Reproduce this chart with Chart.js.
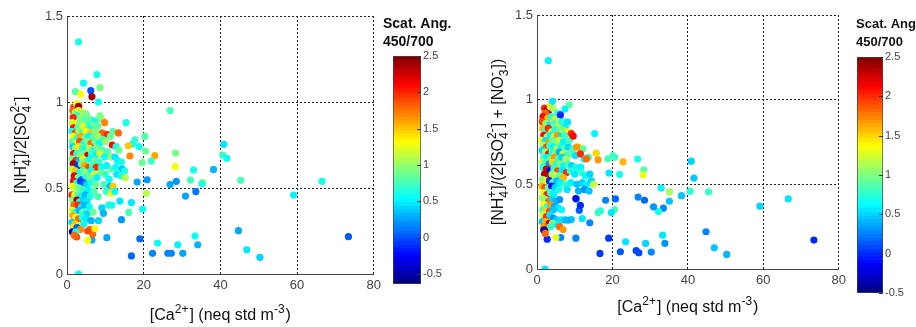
<!DOCTYPE html>
<html>
<head>
<meta charset="utf-8">
<script src="https://cdn.jsdelivr.net/npm/chart.js@4.4.0/dist/chart.umd.min.js"></script>
<style>
  html, body { margin: 0; padding: 0; background: #fff; }
  body { width: 916px; height: 327px; position: relative; overflow: hidden; }
  canvas { position: absolute; top: 0; }
</style>
</head>
<body>
<canvas id="scatA" width="385" height="327" style="left:0px"></canvas>
<canvas id="barA" width="75" height="327" style="left:383px"></canvas>
<canvas id="scatB" width="380" height="327" style="left:470px"></canvas>
<canvas id="barB" width="69" height="327" style="left:847px"></canvas>
<script>
// Axis ticks
const xTicks = [0, 20, 40, 60, 80];
const yTicks = [0, 0.5, 1, 1.5];
const cbTicks = [-0.5, 0, 0.5, 1, 1.5, 2, 2.5];

// Titles (strings, or [superscript, subscript] stacks)
const leftYTitle = ['[NH', ['+', '4'], ']/2[SO', ['2-', '4'], ']'];
const rightYTitle = ['[NH', ['+', '4'], ']/(2[SO', ['2-', '4'], '] + [NO', ['-', '3'], '])'];
const xTitle = ['[Ca', ['2+', ''], '] (neq std m', ['-3', ''], ')'];
const cbTitleLines = ['Scat. Ang.', '450/700'];

// Points: [Ca2+, ratio, scattering angstrom exponent]
// left panel, dense group near the y axis
const leftCluster = [
  [1.8,0.97,2.0],[2.5,0.99,1.3],[3.2,0.98,1.1],[3.0,0.975,2.4],[1.5,0.95,1.8],[2.2,0.94,1.0],[3.0,0.95,1.2],[4.0,0.94,1.1],
  [5.0,0.93,0.9],[2.6,0.92,0.6],[1.6,0.91,2.0],[3.6,0.91,1.0],[4.6,0.90,0.8],[6.0,0.90,0.85],[7.2,0.89,0.6],[8.6,0.92,0.9],
  [9.0,0.90,0.95],[9.8,0.88,1.7],[1.4,0.88,1.2],[2.4,0.87,1.4],[3.4,0.88,0.9],[5.5,0.87,0.7],[6.8,0.86,1.0],[1.7,0.85,2.1],
  [2.8,0.85,0.8],[4.2,0.86,1.2],[5.9,0.85,0.6],[8.0,0.86,0.8],
  [1.3,0.83,0.55],[2.2,0.82,1.9],[3.1,0.83,1.0],[4.0,0.82,0.7],[5.0,0.83,1.3],[6.2,0.82,1.5],[7.4,0.83,0.9],[9.2,0.82,1.8],
  [10.5,0.81,2.0],[11.3,0.80,0.85],[12.0,0.83,0.8],[1.6,0.80,1.3],[2.7,0.79,0.6],[3.6,0.80,1.6],[4.7,0.79,0.9],[5.6,0.80,0.5],
  [6.6,0.79,0.75],[8.0,0.80,1.0],[9.5,0.78,0.7],[1.4,0.77,0.8],[2.4,0.76,1.2],[3.3,0.77,1.9],[4.4,0.76,0.6],[5.3,0.77,0.9],
  [6.3,0.76,1.8],[7.3,0.77,0.85],[8.5,0.76,0.55],[10.0,0.77,1.0],[11.8,0.75,2.1],[12.8,0.74,0.6],[13.5,0.72,0.85],
  [1.5,0.74,0.4],[2.2,0.73,1.0],[3.0,0.74,1.4],[4.0,0.73,0.7],[4.9,0.72,0.5],[5.8,0.73,1.1],[6.9,0.72,0.6],[8.0,0.73,0.9],
  [9.2,0.72,0.8],[10.6,0.71,0.75],[1.7,0.70,2.1],[2.6,0.70,0.65],[3.5,0.69,1.0],[4.5,0.70,0.85],[5.4,0.69,2.2],[6.4,0.70,0.7],
  [7.5,0.69,0.5],[8.6,0.70,1.2],[9.8,0.68,0.55],[11.5,0.68,1.0],[12.5,0.68,0.45],[1.3,0.67,0.9],[2.3,0.66,2.0],[3.2,0.66,0.3],
  [4.1,0.67,1.2],[5.2,0.66,0.8],[6.1,0.67,0.55],[7.2,0.66,0.9],[8.3,0.65,0.7],[13.2,0.66,0.5],[14.2,0.65,0.6],
  [1.6,0.64,2.4],[2.8,0.63,-0.1],[3.8,0.64,0.9],[4.6,0.63,1.6],[5.6,0.62,1.9],[6.7,0.63,0.7],[7.6,0.62,2.0],[9.0,0.62,0.6],
  [10.3,0.63,0.5],[11.6,0.61,0.8],[12.7,0.62,0.55],[14.4,0.61,0.35],[15.0,0.60,0.6],[1.3,0.61,1.1],[2.2,0.60,1.5],[3.2,0.59,0.6],
  [4.2,0.60,0.8],[5.2,0.59,1.0],[6.3,0.60,0.55],[7.0,0.58,1.2],[8.7,0.59,0.9],[10.0,0.58,0.7],[13.0,0.58,0.45],[14.1,0.57,0.6],
  [15.2,0.56,1.1],[1.9,0.57,2.2],[2.9,0.56,0.85],[3.9,0.55,0.15],[4.9,0.56,0.65],[6.0,0.56,0.9],[7.8,0.56,0.5],[11.0,0.55,0.55],
  [1.7,0.54,2.1],[2.5,0.53,0.6],[3.5,0.54,-0.1],[4.3,0.53,0.0],[5.1,0.52,0.4],[6.3,0.53,0.6],[7.5,0.52,0.85],[9.6,0.52,0.75],
  [11.2,0.51,0.3],[12.0,0.51,1.5],[1.4,0.51,1.3],[2.3,0.50,1.1],[3.1,0.50,0.9],[4.0,0.49,0.7],[5.5,0.49,0.5],[7.0,0.48,0.8],
  [10.3,0.48,0.7],[11.6,0.47,1.3],[12.5,0.48,0.55],[1.3,0.46,2.0],[2.0,0.46,1.3],[2.8,0.46,0.8],[3.7,0.45,0.55],[4.8,0.46,0.3],
  [6.0,0.45,0.6],[8.1,0.45,0.75],
  [1.5,0.43,0.9],[2.6,0.43,2.4],[3.3,0.42,0.7],[4.2,0.43,0.4],[5.2,0.42,0.45],[1.8,0.40,1.8],[2.9,0.40,2.0],[3.8,0.39,0.5],
  [4.6,0.40,0.3],[5.8,0.39,0.55],[1.4,0.37,1.2],[2.3,0.36,0.6],[3.2,0.37,0.3],[4.1,0.36,0.75],[5.2,0.35,0.4],[6.8,0.36,0.85],
  [1.5,0.34,1.6],[2.3,0.33,1.3],[3.0,0.32,1.8],[4.0,0.33,0.6],[5.0,0.32,0.45],[6.3,0.31,0.3],[1.3,0.30,0.4],[2.1,0.29,1.5],
  [3.1,0.28,1.2],[4.4,0.29,0.55],[1.6,0.27,1.4],[2.6,0.27,0.0],[3.5,0.26,1.7],[1.4,0.245,-0.3],[2.3,0.245,0.6],[6.0,0.26,1.8],
  [5.4,0.25,1.9],[2.5,0.215,1.9],[1.9,0.225,1.8]
];
// left panel, spread-out points
const leftSparse = [
  [3.0,1.35,0.6],[7.8,1.16,0.6],[4.3,1.11,0.55],[2.2,1.06,0.8],[3.6,1.045,1.3],[6.2,1.066,0.0],[6.5,1.03,2.4],[8.6,1.083,0.9],
  [8.2,1.0,0.55],[26.9,0.95,0.75],[15.4,0.88,0.6],[13.4,0.82,1.8],[17.7,0.78,0.7],[20.3,0.80,0.8],[18.8,0.74,0.6],[20.5,0.715,0.85],
  [17.1,0.756,0.6],[16.0,0.745,1.5],[16.4,0.686,1.7],[22.9,0.688,1.6],[22.0,0.657,0.7],[19.6,0.647,0.85],[28.3,0.703,0.9],
  [28.2,0.624,1.3],[33.0,0.605,0.6],[38.2,0.608,0.3],[40.9,0.754,0.45],[40.6,0.692,0.7],[41.7,0.673,0.55],[45.3,0.545,0.75],
  [35.4,0.531,1.1],[35.2,0.525,0.6],[32.2,0.546,0.75],[28.5,0.539,0.2],[26.9,0.52,0.25],[20.9,0.548,0.2],[18.3,0.535,0.25],
  [20.7,0.469,1.1],[30.9,0.453,0.25],[33.6,0.479,0.1],[59.1,0.459,0.5],[66.5,0.539,0.6],[73.4,0.217,0.0],[44.7,0.252,0.25],
  [46.9,0.141,0.45],[50.3,0.097,0.4],[33.4,0.221,0.55],[34.1,0.17,0.3],[30.2,0.12,0.25],[28.9,0.17,0.5],[26.3,0.12,0.15],
  [27.2,0.12,0.15],[22.3,0.12,0.15],[23.6,0.18,0.55],[19.0,0.205,0.05],[16.8,0.105,0.05],[10.4,0.211,0.25],[19.7,0.378,0.55],
  [16.8,0.415,0.45],[16.1,0.358,0.75],[14.2,0.316,0.2],[13.8,0.424,0.45],[11.7,0.40,0.55],[10.9,0.40,0.6],[9.1,0.385,0.4],
  [9.5,0.353,0.3],[8.2,0.31,0.4],[6.5,0.198,0.25],[5.4,0.196,1.3],[6.7,0.232,1.8],[7.3,0.264,1.3],[3.0,0.0,0.55]
];
// right panel, dense group near the y axis
const rightCluster = [
  [2.0,0.95,2.0],[2.6,0.94,2.4],[3.0,0.92,2.3],[2.2,0.92,1.8],[3.5,0.96,1.3],[4.2,0.95,1.1],[1.6,0.90,2.1],[2.8,0.89,1.6],
  [3.8,0.90,0.7],[4.8,0.89,1.2],[5.5,0.92,0.8],[1.4,0.87,1.9],[2.4,0.86,1.0],[3.4,0.85,0.55],[4.5,0.86,0.9],[5.8,0.85,1.1],
  [6.6,0.87,0.75],[7.5,0.84,0.6],
  [1.5,0.83,1.6],[2.2,0.82,0.8],[3.0,0.83,2.0],[3.9,0.81,1.2],[4.8,0.82,0.7],[5.7,0.81,0.9],[6.8,0.82,1.0],[8.2,0.81,1.4],
  [1.8,0.79,2.1],[2.7,0.78,1.1],[3.6,0.79,0.6],[4.5,0.78,1.4],[5.4,0.79,1.7],[6.3,0.78,0.5],[7.4,0.79,0.8],[1.3,0.76,1.3],
  [2.2,0.76,0.55],[3.1,0.75,1.7],[4.1,0.76,0.9],[5.0,0.75,1.0],[6.0,0.76,1.2],[7.0,0.75,0.6],[8.6,0.76,0.85],
  [1.6,0.73,1.1],[2.5,0.72,1.9],[3.4,0.73,0.8],[4.3,0.72,0.6],[5.3,0.71,1.3],[6.2,0.72,0.7],[7.2,0.71,0.9],[8.3,0.72,0.5],
  [9.5,0.71,0.8],[11.0,0.72,1.5],[12.2,0.71,0.9],[1.4,0.70,0.5],[2.2,0.69,1.1],[3.1,0.68,2.1],[4.0,0.69,0.75],[4.9,0.68,1.0],
  [5.9,0.69,0.4],[6.9,0.68,1.2],[8.0,0.67,0.7],[9.0,0.68,0.9],[10.2,0.67,0.55],[1.8,0.66,0.8],[2.8,0.66,0.6],[3.7,0.65,1.0],
  [4.6,0.66,1.7],[5.6,0.65,0.85],[6.6,0.66,0.5],[7.7,0.65,1.1],[12.5,0.65,0.6],[13.6,0.66,0.8],
  [1.4,0.63,1.2],[2.3,0.63,0.9],[3.2,0.62,0.3],[4.1,0.63,1.5],[5.1,0.62,0.7],[6.1,0.62,1.0],[7.1,0.61,0.6],[8.1,0.62,0.85],
  [9.2,0.61,0.5],[10.4,0.60,0.7],[11.6,0.60,0.6],[1.6,0.60,0.7],[2.5,0.59,2.2],[3.4,0.58,-0.2],[4.5,0.59,0.8],[5.5,0.58,1.9],
  [6.6,0.58,0.55],[7.8,0.57,2.0],[8.8,0.58,0.75],[10.0,0.56,0.55],[11.8,0.57,0.8],[12.8,0.55,0.65],[14.0,0.56,0.5],
  [2.0,0.56,2.4],[3.0,0.55,2.3],[4.0,0.56,1.0],[5.0,0.55,1.2],[6.0,0.55,0.9],[7.0,0.54,1.6],
  [1.5,0.53,1.0],[2.4,0.52,1.3],[3.3,0.52,0.0],[4.2,0.51,0.9],[5.2,0.52,0.45],[6.2,0.51,0.6],[7.4,0.50,0.8],[9.0,0.51,0.6],
  [10.6,0.50,0.45],[12.0,0.51,0.5],[13.2,0.50,0.6],[14.4,0.52,0.5],[15.0,0.50,1.2],[1.3,0.49,1.6],[2.1,0.48,1.9],[3.0,0.48,0.9],
  [3.9,0.49,-0.1],[4.8,0.48,0.5],[5.8,0.47,0.7],[8.0,0.47,0.55],[11.0,0.46,0.4],[12.6,0.47,0.3],[13.8,0.46,0.45],[1.6,0.45,1.3],
  [2.6,0.44,2.0],[3.6,0.45,0.8],[4.5,0.44,0.6],
  [1.4,0.42,1.1],[2.2,0.41,1.0],[3.1,0.40,1.8],[4.0,0.41,0.5],[5.0,0.40,0.4],[6.0,0.41,0.3],[10.6,0.41,0.75],[1.8,0.38,1.4],
  [2.8,0.37,0.7],[3.7,0.38,1.7],[4.7,0.37,0.35],[5.6,0.36,0.55],[1.5,0.35,0.9],[2.4,0.34,1.5],[3.3,0.34,1.9],[4.3,0.35,0.45],
  [6.5,0.35,0.6],
  [1.6,0.32,1.2],[2.5,0.31,2.0],[3.4,0.32,0.55],[4.3,0.30,0.3],[5.3,0.29,0.5],[6.5,0.29,0.55],[7.5,0.29,0.45],[1.4,0.28,0.45],
  [2.3,0.28,1.6],[3.2,0.27,2.3],[4.1,0.27,1.0],[5.4,0.26,0.6],[1.8,0.25,1.7],[2.7,0.245,1.8],[3.6,0.25,0.8],[6.0,0.25,1.8],
  [2.0,0.23,2.1]
];
// right panel, spread-out points
const rightSparse = [
  [3.0,1.23,0.6],[8.5,0.97,0.9],[7.4,0.945,0.6],[6.2,0.91,0.0],[4.1,0.99,0.55],[8.1,0.867,0.55],[15.3,0.80,0.6],[9.1,0.80,2.0],
  [9.6,0.785,2.1],[15.7,0.684,1.5],[16.2,0.645,1.7],[13.1,0.651,1.8],[11.5,0.68,2.0],[10.5,0.72,1.7],[18.8,0.651,0.85],
  [20.1,0.67,0.85],[20.6,0.66,0.8],[22.8,0.633,1.6],[26.7,0.649,0.7],[28.3,0.586,0.9],[28.1,0.555,1.3],[19.1,0.567,0.55],
  [21.9,0.559,0.7],[40.9,0.637,0.5],[41.6,0.537,0.45],[32.9,0.478,0.6],[35.1,0.455,1.1],[38.3,0.433,0.45],[40.6,0.459,0.75],
  [45.5,0.455,0.8],[35.1,0.40,0.45],[33.5,0.359,0.25],[32.2,0.339,0.7],[30.9,0.367,0.3],[28.5,0.406,0.2],[26.8,0.425,0.25],
  [20.8,0.414,0.2],[18.2,0.406,0.25],[20.6,0.351,0.85],[19.7,0.333,0.55],[16.8,0.343,0.7],[16.2,0.333,0.8],[14.0,0.273,0.25],
  [12.0,0.298,0.55],[11.2,0.347,0.15],[11.5,0.376,0.0],[10.3,0.416,-0.2],[9.1,0.292,0.45],[8.3,0.288,0.4],[59.1,0.371,0.5],
  [66.6,0.414,0.55],[73.4,0.171,0.0],[44.8,0.22,0.25],[47.0,0.125,0.45],[50.3,0.086,0.4],[33.3,0.20,0.55],[33.9,0.151,0.3],
  [30.3,0.10,0.25],[28.8,0.151,0.5],[26.3,0.108,0.1],[27.0,0.096,0.1],[22.1,0.102,0.15],[23.5,0.161,0.55],[19.0,0.182,0.05],
  [16.7,0.092,0.05],[10.3,0.182,0.25],[6.3,0.186,0.25],[5.0,0.186,1.3],[2.7,0.176,0.0],[1.8,0.229,-0.3],[2.2,0.21,1.8],
  [2.1,0.0,0.55],[6.9,0.233,1.7]
];

const FONT = '"Liberation Sans", Arial, sans-serif';

// MATLAB style jet colormap, 64 steps
function jet(t) {
    const cl = v => Math.max(0, Math.min(1, v));
    const r = cl(Math.min(4 * t - 1.5, -4 * t + 4.5));
    const g = cl(Math.min(4 * t - 0.5, -4 * t + 3.5));
    const b = cl(Math.min(4 * t + 0.5, -4 * t + 2.5));
    return `rgb(${Math.round(r * 255)},${Math.round(g * 255)},${Math.round(b * 255)})`;
}
function colorFor(c, lo, hi) {
    let i = Math.floor((c - lo) / (hi - lo) * 64);
    i = Math.max(0, Math.min(63, i));
    return jet((i + 0.5) / 64);
}

// text with stacked super/subscripts, centred on (x, y)
function drawRich(ctx, segs, x, y, size, vertical) {
    const small = Math.round(size * 0.72);
    const font = s => s + 'px ' + FONT;
    let total = 0;
    const widths = segs.map(s => {
        let w;
        if (typeof s === 'string') {
            ctx.font = font(size);
            w = ctx.measureText(s).width;
        } else {
            ctx.font = font(small);
            w = Math.max(ctx.measureText(s[0]).width, ctx.measureText(s[1]).width) + 1;
        }
        total += w;
        return w;
    });
    ctx.save();
    ctx.translate(x, y);
    if (vertical) ctx.rotate(-Math.PI / 2);
    ctx.textAlign = 'left';
    ctx.textBaseline = 'alphabetic';
    const base = size * 0.36;
    let px = -total / 2;
    segs.forEach((s, i) => {
        if (typeof s === 'string') {
            ctx.font = font(size);
            ctx.fillText(s, px, base);
        } else {
            ctx.font = font(small);
            ctx.fillText(s[0], px, base - size * 0.42);
            ctx.fillText(s[1], px, base + size * 0.3);
        }
        px += widths[i];
    });
    ctx.restore();
}

const richTitles = {
    id: 'richTitles',
    afterDraw(chart, args, opts) {
        const {ctx, chartArea} = chart;
        ctx.save();
        ctx.fillStyle = '#111';
        drawRich(ctx, opts.x, (chartArea.left + chartArea.right) / 2, opts.xTitleY, opts.size, false);
        drawRich(ctx, opts.y, opts.yTitleX, (chartArea.top + chartArea.bottom) / 2, opts.size, true);
        ctx.restore();
    }
};

const cbDecor = {
    id: 'cbDecor',
    afterDraw(chart, args, opts) {
        const {ctx, chartArea} = chart;
        const y = chart.scales.y;
        ctx.save();
        // small inward ticks on the right edge
        ctx.strokeStyle = '#333';
        ctx.lineWidth = 1;
        y.ticks.forEach(t => {
            const py = Math.round(y.getPixelForValue(t.value)) + 0.5;
            ctx.beginPath();
            ctx.moveTo(chartArea.right - 4, py);
            ctx.lineTo(chartArea.right, py);
            ctx.stroke();
        });
        // title
        ctx.fillStyle = '#111';
        ctx.font = 'bold ' + opts.size + 'px ' + FONT;
        ctx.textAlign = 'left';
        ctx.textBaseline = 'middle';
        ctx.fillText(cbTitleLines[0], opts.x, 24);
        ctx.fillText(cbTitleLines[1], opts.x, 42);
        ctx.restore();
    }
};

function makeScatter(id, pts, lo, hi, g) {
    return new Chart(document.getElementById(id), {
        type: 'scatter',
        data: {
            datasets: [{
                data: pts.map(p => ({x: p[0], y: p[1]})),
                pointBackgroundColor: pts.map(p => colorFor(p[2], lo, hi)),
                pointBorderWidth: 0,
                pointRadius: 3.6,
                pointHoverRadius: 3.6
            }]
        },
        options: {
            responsive: false,
            animation: false,
            events: [],
            layout: {padding: {top: g.top, right: g.right, left: 0, bottom: 0}},
            plugins: {
                legend: {display: false},
                tooltip: {enabled: false},
                richTitles: {x: xTitle, y: g.yTitle, xTitleY: g.xTitleY, yTitleX: g.yTitleX, size: 16}
            },
            scales: {
                x: {
                    type: 'linear', min: 0, max: 80,
                    afterBuildTicks: s => { s.ticks = xTicks.map(v => ({value: v})); },
                    afterFit: s => { s.height = g.xh; },
                    grid: {color: '#222', lineWidth: 1, drawTicks: false},
                    border: {display: true, color: '#444', width: 1, dash: [2, 2]},
                    ticks: {padding: 4, color: '#444', font: {family: FONT, size: 13}, callback: v => String(v), maxRotation: 0}
                },
                y: {
                    type: 'linear', min: 0, max: 1.5,
                    afterBuildTicks: s => { s.ticks = yTicks.map(v => ({value: v})); },
                    afterFit: s => { s.width = g.yw; },
                    grid: {color: '#222', lineWidth: 1, drawTicks: false},
                    border: {display: true, color: '#444', width: 1, dash: [2, 2]},
                    ticks: {padding: 4, color: '#444', font: {family: FONT, size: 13}, callback: v => String(v)}
                }
            }
        },
        plugins: [richTitles]
    });
}

function makeColorbar(id, lo, hi, g) {
    return new Chart(document.getElementById(id), {
        type: 'bar',
        data: {
            labels: [''],
            datasets: [{
                data: [[lo, hi]],
                backgroundColor: c => {
                    const {chart} = c;
                    if (!chart.chartArea || !chart.scales.y) return '#888';
                    const y = chart.scales.y;
                    const grad = chart.ctx.createLinearGradient(0, y.getPixelForValue(lo), 0, y.getPixelForValue(hi));
                    for (let i = 0; i < 64; i++) {
                        const col = jet((i + 0.5) / 64);
                        grad.addColorStop(i / 64, col);
                        grad.addColorStop((i + 1) / 64, col);
                    }
                    return grad;
                },
                borderColor: '#444',
                borderWidth: 1,
                borderSkipped: false,
                barPercentage: 1,
                categoryPercentage: 1
            }]
        },
        options: {
            responsive: false,
            animation: false,
            events: [],
            layout: {padding: {left: g.left, top: g.top, bottom: g.bottom, right: 0}},
            plugins: {
                legend: {display: false},
                tooltip: {enabled: false},
                cbDecor: {x: g.titleX, size: g.titleSize}
            },
            scales: {
                x: {display: false},
                y: {
                    position: 'right', min: lo, max: hi,
                    afterBuildTicks: s => { s.ticks = cbTicks.map(v => ({value: v})); },
                    afterFit: s => { s.width = g.yw; },
                    grid: {display: false, drawTicks: false},
                    border: {display: false},
                    ticks: {padding: 2, color: '#444', font: {family: FONT, size: 11}, callback: v => String(v)}
                }
            }
        },
        plugins: [cbDecor]
    });
}

function init() {
    makeScatter('scatA', leftCluster.concat(leftSparse), -0.64, 2.5,
        {top: 16, right: 10, yw: 67, xh: 53, yTitle: leftYTitle, yTitleX: 20, xTitleY: 314});
    makeColorbar('barA', -0.64, 2.5,
        {left: 10, top: 56, bottom: 43, yw: 37, titleX: 0, titleSize: 14});
    makeScatter('scatB', rightCluster.concat(rightSparse), -0.5, 2.5,
        {top: 15, right: 10, yw: 67, xh: 58, yTitle: rightYTitle, yTitleX: 27, xTitleY: 306});
    makeColorbar('barB', -0.5, 2.5,
        {left: 10, top: 57, bottom: 34, yw: 33, titleX: 9, titleSize: 13});
}

document.addEventListener('DOMContentLoaded', init);
</script>
</body>
</html>
